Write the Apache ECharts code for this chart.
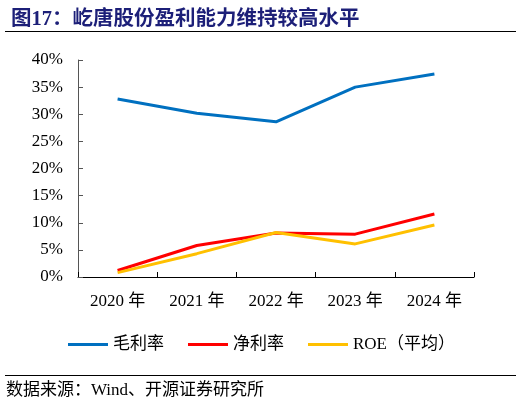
<!DOCTYPE html>
<html>
<head>
<meta charset="utf-8">
<script src="https://cdn.jsdelivr.net/npm/echarts@6/dist/echarts.min.js"></script>
<style>
  html, body { margin: 0; padding: 0; background: #fff; }
  #main { width: 522px; height: 405px; }
</style>
</head>
<body>
<div id="main"></div>
<script>
// 年份与三条比率（%）
var years = ['2020 年', '2021 年', '2022 年', '2023 年', '2024 年'];
var grossMargin = [32.8, 30.2, 28.6, 35.0, 37.4];
var netMargin = [1.2, 5.8, 8.1, 7.9, 11.6];
var roeAvg = [0.8, 4.3, 8.2, 6.1, 9.6];
var yTicks = [0, 5, 10, 15, 20, 25, 30, 35, 40];

var serif = '"Liberation Serif", "Times New Roman", "Noto Sans CJK SC", serif';

var myChart = echarts.init(document.getElementById('main'));
var option = {
  animation: false,
  title: {
    text: '图17：屹唐股份盈利能力维持较高水平',
    left: 6,
    top: 4,
    textStyle: { fontSize: 20.5, fontWeight: 'bold', color: '#1c1f78', fontFamily: serif }
  },
  graphic: [
    { type: 'line', shape: { x1: 5, y1: 31.5, x2: 516, y2: 31.5 }, style: { stroke: '#000', lineWidth: 1 } },
    { type: 'line', shape: { x1: 5, y1: 375.5, x2: 516, y2: 375.5 }, style: { stroke: '#000', lineWidth: 1 } },
    { type: 'text', left: 6, top: 382, style: { text: '数据来源：Wind、开源证券研究所', fontSize: 17, fill: '#000', fontFamily: serif } }
  ],
  legend: {
    top: 331,
    left: 63,
    itemWidth: 40,
    itemHeight: 3,
    itemGap: 24,
    icon: 'rect',
    textStyle: { fontSize: 17, color: '#000', fontFamily: serif },
    data: ['毛利率', '净利率', 'ROE（平均）']
  },
  grid: { left: 78, right: 48, top: 60, bottom: 128 },
  xAxis: {
    type: 'category',
    data: years,
    boundaryGap: true,
    axisLine: { lineStyle: { color: '#000', width: 1 } },
    axisTick: { show: true, inside: true, length: 5, lineStyle: { color: '#000' } },
    axisLabel: { fontSize: 17, color: '#000', fontFamily: serif, margin: 16 }
  },
  yAxis: {
    type: 'value',
    min: 0,
    max: 40,
    interval: 5,
    axisLine: { show: true, lineStyle: { color: '#555', width: 1 } },
    axisTick: { show: true, inside: true, length: 5, lineStyle: { color: '#555' } },
    splitLine: { show: false },
    axisLabel: {
      fontSize: 17, color: '#000', fontFamily: serif, margin: 15,
      formatter: function (v) { return yTicks.indexOf(v) >= 0 ? v + '%' : ''; }
    }
  },
  series: [
    { name: '毛利率', type: 'line', data: grossMargin, symbol: 'none', lineStyle: { color: '#0070C0', width: 3 }, itemStyle: { color: '#0070C0' } },
    { name: '净利率', type: 'line', data: netMargin, symbol: 'none', lineStyle: { color: '#FF0000', width: 3 }, itemStyle: { color: '#FF0000' } },
    { name: 'ROE（平均）', type: 'line', data: roeAvg, symbol: 'none', lineStyle: { color: '#FFC000', width: 3 }, itemStyle: { color: '#FFC000' } }
  ]
};
myChart.setOption(option);
</script>
</body>
</html>
